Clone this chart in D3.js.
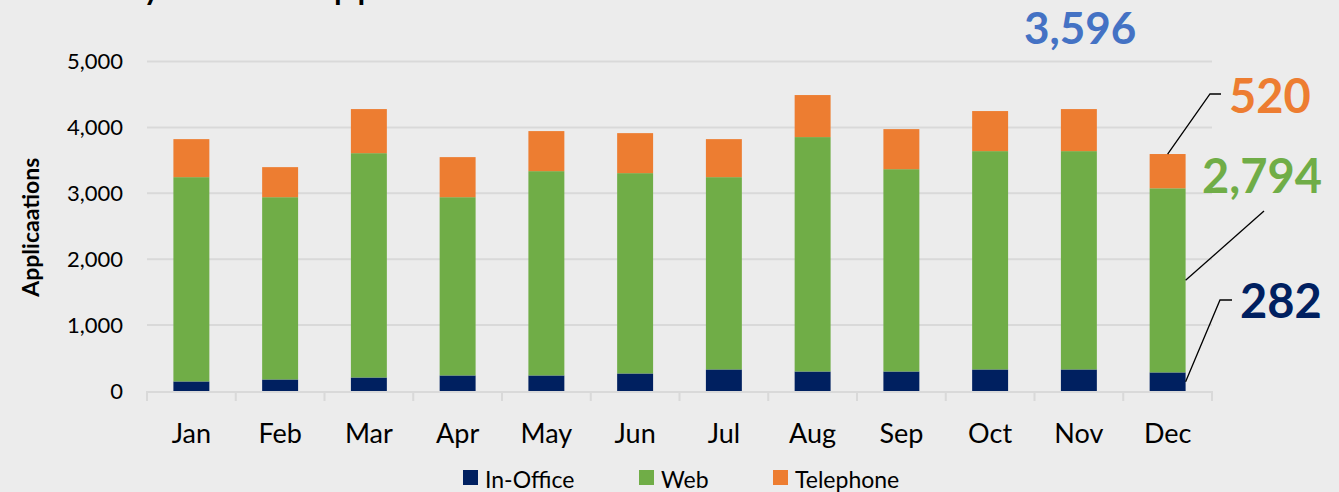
<!DOCTYPE html>
<html>
<head>
<meta charset="utf-8">
<script src="https://cdn.jsdelivr.net/npm/d3@7"></script>
<style>
  body { margin: 0; background: #ececec; overflow: hidden; }
  text { font-family: Lato, "Open Sans", sans-serif; }
</style>
</head>
<body>
<div id="chart"></div>
<script>
var months = ["Jan","Feb","Mar","Apr","May","Jun","Jul","Aug","Sep","Oct","Nov","Dec"];
var inOffice  = [145, 175, 205, 236, 236, 266, 327, 296, 296, 327, 327, 282];
var web       = [3100, 2766, 3404, 2705, 3100, 3040, 2918, 3557, 3070, 3313, 3313, 2794];
var telephone = [577, 456, 669, 608, 608, 607, 577, 638, 608, 608, 638, 520];
var seriesNames = ["In-Office", "Web", "Telephone"];
var seriesColors = ["#002060", "#70AD47", "#ED7D31"];
var yTicks = [0, 1000, 2000, 3000, 4000, 5000];

var opts = { width: 1339, height: 492 };
var m = { left: 147, right: 1212, top: 61.5, bottom: 391 };

var rows = months.map(function(mo, i) {
    return { month: mo, "In-Office": inOffice[i], "Web": web[i], "Telephone": telephone[i] };
});
var stacked = d3.stack().keys(seriesNames)(rows);

var svg = d3.select("#chart").append("svg")
    .attr("width", opts.width)
    .attr("height", opts.height);

svg.append("rect").attr("width", opts.width).attr("height", opts.height).attr("fill", "#ececec");

var x = d3.scaleBand().domain(months).range([m.left, m.right])
    .paddingInner(0.595).paddingOuter(0.2975);
var y = d3.scaleLinear().domain([0, 5000]).range([m.bottom, m.top]);

// title sits mostly above the frame, only descenders show
svg.append("text")
    .attr("x", 8).attr("y", -2)
    .style("font-size", "42px")
    .attr("fill", "#000")
    .text("Monthly Online Applications");

// gridlines
svg.append("g").selectAll("line").data(yTicks.slice(1)).enter().append("line")
    .attr("x1", m.left).attr("x2", m.right)
    .attr("y1", function(d) { return y(d); }).attr("y2", function(d) { return y(d); })
    .attr("stroke", "#d9d9d9").attr("stroke-width", 2);

// y axis labels
var yAxis = d3.axisLeft(y).tickValues(yTicks).tickSize(0).tickPadding(24)
    .tickFormat(d3.format(","));
var gy = svg.append("g").attr("transform", "translate(" + m.left + ",0)").call(yAxis);
gy.select(".domain").remove();
gy.selectAll("text").style("font-size", "22px").style("font-family", "Lato, sans-serif").attr("fill", "#000");

svg.append("text")
    .attr("transform", "translate(39," + ((m.top + m.bottom) / 2 + 1) + ") rotate(-90)")
    .attr("text-anchor", "middle")
    .style("font-size", "23px").style("font-weight", "bold")
    .attr("fill", "#000")
    .text("Applicaations");

// bars
svg.append("g").selectAll("g").data(stacked).enter().append("g")
    .attr("fill", function(d, i) { return seriesColors[i]; })
  .selectAll("rect").data(function(d) { return d; }).enter().append("rect")
    .attr("x", function(d) { return x(d.data.month); })
    .attr("width", x.bandwidth())
    .attr("y", function(d) { return y(d[1]); })
    .attr("height", function(d) { return y(d[0]) - y(d[1]); });

// x axis: baseline + category separators
var step = x.step();
var bounds = d3.range(months.length + 1).map(function(i) { return m.left + i * step; });
svg.append("line")
    .attr("x1", m.left).attr("x2", m.right).attr("y1", m.bottom + 1).attr("y2", m.bottom + 1)
    .attr("stroke", "#d9d9d9").attr("stroke-width", 2);
svg.append("g").selectAll("line").data(bounds).enter().append("line")
    .attr("x1", function(d) { return d; }).attr("x2", function(d) { return d; })
    .attr("y1", m.bottom).attr("y2", m.bottom + 10)
    .attr("stroke", "#d9d9d9").attr("stroke-width", 2);

svg.append("g").selectAll("text").data(months).enter().append("text")
    .attr("x", function(d) { return x(d) + x.bandwidth() / 2; })
    .attr("y", 443)
    .attr("text-anchor", "middle")
    .style("font-size", "27px")
    .attr("fill", "#000")
    .text(function(d) { return d; });

// legend
var legendX = [463, 639, 773];
var lg = svg.append("g").selectAll("g").data(seriesNames).enter().append("g")
    .attr("transform", function(d, i) { return "translate(" + legendX[i] + ",470)"; });
lg.append("rect").attr("width", 15).attr("height", 15)
    .attr("fill", function(d, i) { return seriesColors[i]; });
lg.append("text").attr("x", 22).attr("y", 18)
    .style("font-size", "23px").attr("fill", "#000")
    .text(function(d) { return d; });

// December call-outs
var last = months.length - 1;
var dec = months[last];
var cx = x(dec) + x.bandwidth() / 2;
var rx = x(dec) + x.bandwidth();
var decTotal = inOffice[last] + web[last] + telephone[last];
var fmt = d3.format(",");

function leader(points) {
    svg.append("path")
        .attr("d", d3.line()(points))
        .attr("fill", "none").attr("stroke", "#000").attr("stroke-width", 1.3);
}
leader([[cx, y(decTotal)], [1210, 94], [1221, 94]]);
leader([[rx, y(inOffice[last] + web[last] / 2)], [1264, 211]]);
leader([[rx, y(inOffice[last] / 2)], [1220, 300], [1232, 300]]);

var callouts = [
    { text: fmt(decTotal), x: 1024, y: 44, size: 44, color: "#4472C4" },
    { text: fmt(telephone[last]), x: 1229, y: 113, size: 47, color: "#ED7D31" },
    { text: fmt(web[last]), x: 1202, y: 193, size: 47, color: "#70AD47" },
    { text: fmt(inOffice[last]), x: 1240, y: 318, size: 47, color: "#002060" }
];
svg.append("g").selectAll("text").data(callouts).enter().append("text")
    .attr("x", function(d) { return d.x; })
    .attr("y", function(d) { return d.y; })
    .style("font-size", function(d) { return d.size + "px"; })
    .style("font-weight", "bold")
    .attr("fill", function(d) { return d.color; })
    .text(function(d) { return d.text; });
</script>
</body>
</html>
